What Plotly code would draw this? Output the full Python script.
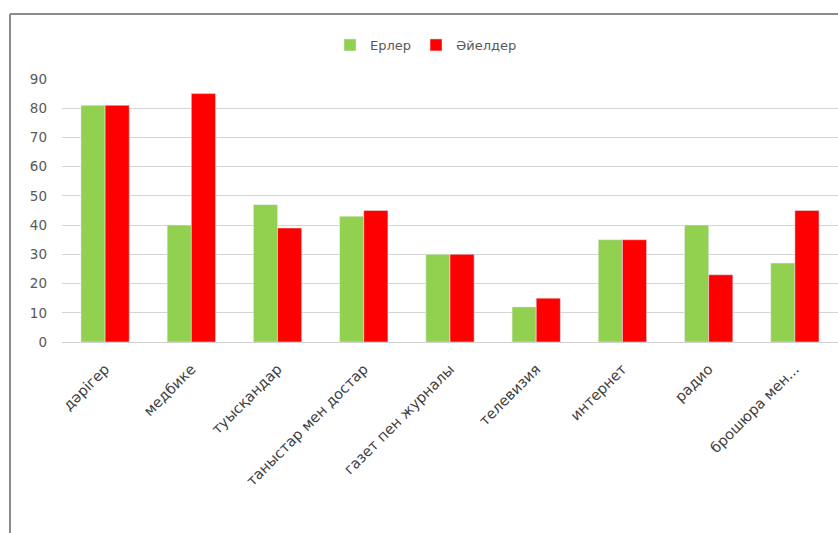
import plotly.graph_objects as go

categories = ["дәрігер", "медбике", "туысқандар", "таныстар мен достар",
              "газет пен журналы", "телевизия", "интернет", "радио", "брошюра мен..."]
men = [81, 40, 47, 43, 30, 12, 35, 40, 27]
women = [81, 85, 39, 45, 30, 15, 35, 23, 45]
series_names = ["Ерлер", "Әйелдер"]
y_ticks = [0, 10, 20, 30, 40, 50, 60, 70, 80, 90]

fig = go.Figure()
fig.add_trace(go.Bar(x=categories, y=men, name=series_names[0], marker_color="#92d050"))
fig.add_trace(go.Bar(x=categories, y=women, name=series_names[1], marker_color="#ff0000"))

W, H = 838, 533
L, R, T, B = 62, 0, 79, 191
pw, ph = W - L - R, H - T - B

def px(x):
    return (x - L) / pw

def py(y):
    return (H - B - y) / ph

fig.update_layout(
    width=W, height=H,
    margin=dict(l=L, r=R, t=T, b=B),
    paper_bgcolor="white", plot_bgcolor="white",
    barmode="group", bargap=0.44, bargroupgap=0,
    font=dict(family="DejaVu Sans, sans-serif", size=13, color="#595959"),
    legend=dict(orientation="h", x=px(426), xanchor="center", y=py(45), yanchor="middle",
                font=dict(size=13, color="#595959"), itemwidth=30, traceorder="normal"),
    xaxis=dict(tickangle=-45, showgrid=False, showline=True, linecolor="#d0d0d0",
               ticks="", ticklabelstandoff=12, tickfont=dict(size=14.5, color="#404040")),
    yaxis=dict(range=[0, 90], tickvals=y_ticks, showgrid=True, gridcolor="#d4d4d4",
               gridwidth=1, zeroline=False, ticks="", ticklabelstandoff=14,
               tickfont=dict(size=13.5, color="#595959")),
    shapes=[
        dict(type="line", xref="paper", yref="paper", x0=px(10), x1=px(838), y0=py(14), y1=py(14),
             line=dict(color="#8c8c8c", width=2)),
        dict(type="line", xref="paper", yref="paper", x0=px(10), x1=px(10), y0=py(14), y1=py(533),
             line=dict(color="#8c8c8c", width=2)),
    ],
)

fig.write_html("out.html")
